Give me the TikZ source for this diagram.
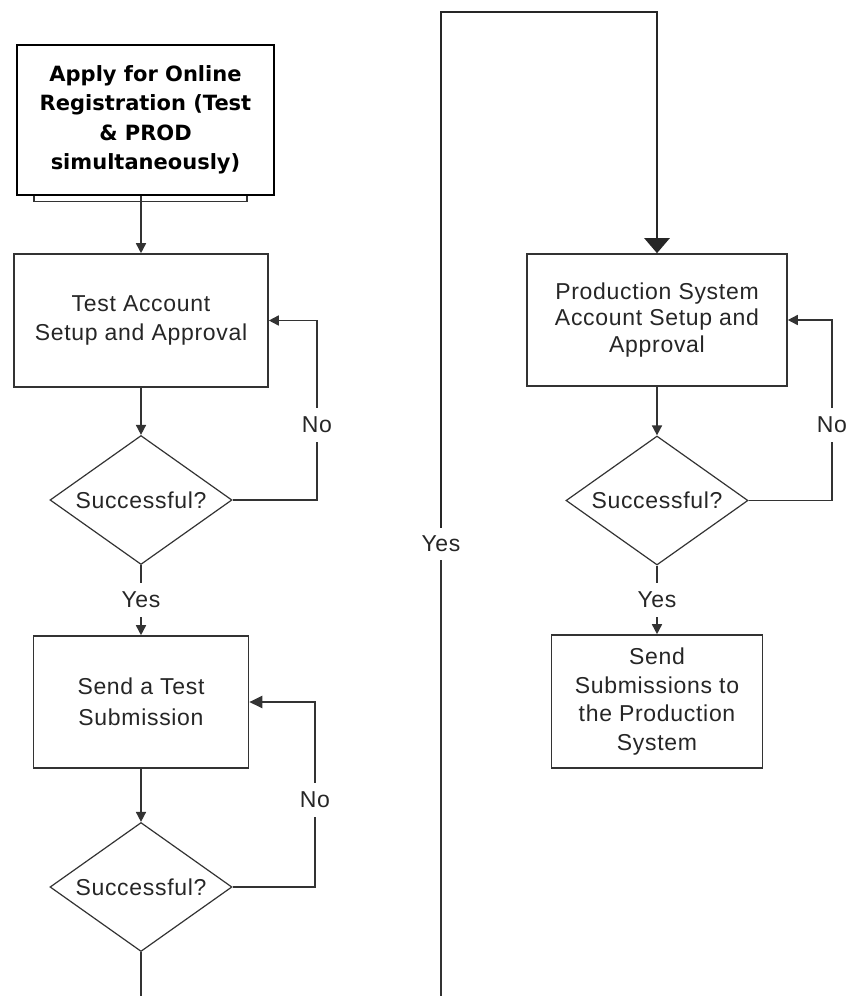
\documentclass[tikz,border=0pt]{standalone}
\usepackage{fontspec}
\setmainfont{Liberation Sans}
\newfontfamily\txtfam{Liberation Sans}[LetterSpace=3]
\newfontfamily\vfont{DejaVu Sans}
\usetikzlibrary{shapes.geometric,arrows.meta}
\definecolor{ln}{HTML}{333333}
\definecolor{tx}{HTML}{262626}
\begin{document}
\begin{tikzpicture}[x=1pt,y=-1pt,
  box/.style={draw=ln, line width=1.6pt, rectangle, inner sep=0pt, align=center, text=tx,
    font=\txtfam\fontsize{23}{28}\selectfont},
  dia/.style={draw=ln, line width=1.2pt, diamond, aspect=1.4, inner sep=0pt, text=tx,
    minimum width=182pt, minimum height=129pt, font=\txtfam\fontsize{23}{28}\selectfont},
  conn/.style={draw=ln, line width=1.6pt},
  arr/.style={conn, -{Triangle[width=10pt,length=10pt]}},
  lbl/.style={inner sep=0pt, minimum height=34pt, text=tx, font=\txtfam\fontsize{23}{28}\selectfont},
]
\useasboundingbox[fill=white] (0,0) rectangle (848,996);

% ---- left column ----
\node[box, draw=black, line width=1.8pt, minimum width=257pt, minimum height=150pt, text=black,
  font=\vfont\bfseries\fontsize{21}{29.5}\selectfont] (apply) at (145.5,120)
  {Apply for Online\\Registration (Test\\\& PROD\\simultaneously)};
\draw[ln, line width=1.3pt] ([xshift=18pt]apply.south west) -- ++(0,5.5) -- ++(213,0) -- ++(0,-5.5);

\node[box, minimum width=254pt, minimum height=133pt, font=\txtfam\fontsize{23}{29}\selectfont] (test) at (141,320.5)
  {Test Account\\Setup and Approval};
\node[dia] (d1) at (141,500) {Successful?};
\node[lbl] (yes1) at (141,600) {Yes};
\node[box, minimum width=215pt, minimum height=132pt, font=\txtfam\fontsize{23}{31}\selectfont] (send) at (141,702)
  {Send a Test\\Submission};
\node[dia] (d2) at (141,887) {Successful?};
\node[lbl] (no1) at (317,425) {No};
\node[lbl] (no2) at (315,800) {No};
\coordinate (b1) at (141,996);

\draw[arr] (test.north |- apply.south) -- (test.north);
\draw[arr] (test.south) -- (d1.north);
\draw[conn] (d1.south) -- (yes1.north);
\draw[arr] (yes1.south) -- (send.north);
\draw[arr] (send.south) -- (d2.north);
\draw[conn] (d2.south) -- (b1);
\draw[conn] (d1.east) -| (no1.south);
\draw[arr] (no1.north) |- (test.east);
\draw[conn, line width=2pt] (d2.east) -| (no2.south);
\draw[conn, line width=2.4pt, -{Triangle[width=12pt,length=13pt]}] (no2.north) |- (send.east);

% ---- big yes loop ----
\coordinate (b2) at (441,996);
\coordinate (top) at (657,12);
\node[lbl, minimum height=32pt] (yesbig) at (441,544) {Yes};
\draw[conn, line width=2.4pt] (b2) -- (yesbig.south);

% ---- right column ----
\node[box, minimum width=260pt, minimum height=132pt, font=\txtfam\fontsize{23}{26.5}\selectfont] (prod) at (657,320)
  {Production System\\Account Setup and\\Approval};
\node[dia] (d3) at (657,500.5) {Successful?};
\node[lbl] (yes3) at (657,600) {Yes};
\node[box, minimum width=211pt, minimum height=133pt, font=\txtfam\fontsize{23}{28.5}\selectfont] (sub) at (657,701.5)
  {Send\\Submissions to\\the Production\\System};
\node[lbl] (no3) at (832,425) {No};

\draw[conn, line width=2.4pt, draw=black!85, -{Triangle[width=25pt,length=15pt]}]
  (yesbig.north) |- (top) -- (prod.north);
\draw[arr] (prod.south) -- (d3.north);
\draw[conn] (d3.south) -- (yes3.north);
\draw[arr] (yes3.south) -- (sub.north);
\draw[conn] (d3.east) -| (no3.south);
\draw[arr] (no3.north) |- (prod.east);
\end{tikzpicture}
\end{document}
